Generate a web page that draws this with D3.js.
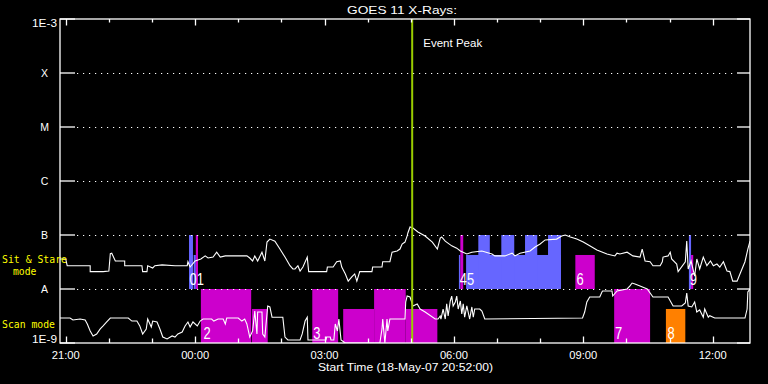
<!DOCTYPE html>
<html><head><meta charset="utf-8">
<script src="https://cdn.jsdelivr.net/npm/d3@7"></script>
<style>html,body{margin:0;padding:0;background:#000;} svg{display:block}</style>
</head><body>
<svg id="c" width="768" height="384"></svg>
<script>
// ---------- data ----------
const startTime = new Date(2007, 4, 18, 20, 52, 0);
const spanMinutes = 960;
const titleText = "GOES 11 X-Rays:";
const xTitle = "Start Time (18-May-07 20:52:00)";
const yTickValues = [1e-9, 1e-8, 1e-7, 1e-6, 1e-5, 1e-4, 1e-3];
const yTickLabels = ["1E-9", "A", "B", "C", "M", "X", "1E-3"];
const eventPeakMin = 490;

// [minutes after start, flux W/m^2]
const longChannel = [[0,3.6e-8],[8,3.6e-8],[10,2.7e-8],[42,2.7e-8],[42,2.1e-8],[60,2.1e-8],[68,2.15e-8],[70,4.5e-8],[72,4.6e-8],[77,3.3e-8],[90,3.3e-8],[90,2.7e-8],[114,2.7e-8],[115,2.1e-8],[121,2.1e-8],[122,2.7e-8],[129,2.45e-8],[132,2.7e-8],[142,2.8e-8],[160,2.7e-8],[177,2.7e-8],[178,3.2e-8],[181,2.55e-8],[188,3.3e-8],[196,3.6e-8],[202,4.1e-8],[206,3.75e-8],[213,3.9e-8],[218,4.8e-8],[223,3.9e-8],[230,4.1e-8],[260,4.1e-8],[264,3.75e-8],[268,3.3e-8],[271,4.1e-8],[275,3.3e-8],[281,4.8e-8],[285,3.3e-8],[288,7.4e-8],[292,8.4e-8],[299,7.7e-8],[306,5.5e-8],[313,3.9e-8],[320,2.7e-8],[324,2.35e-8],[327,2.35e-8],[331,2.7e-8],[334,2.15e-8],[338,2.55e-8],[344,3.9e-8],[346,2.1e-8],[371,2.1e-8],[372,2.55e-8],[380,2.55e-8],[385,3.2e-8],[390,3.3e-8],[392,2.55e-8],[397,1.9e-8],[401,1.4e-8],[406,1.67e-8],[410,1.9e-8],[413,1.4e-8],[417,2.1e-8],[434,2.1e-8],[435,2.55e-8],[448,2.55e-8],[449,3.2e-8],[459,3.2e-8],[462,4.8e-8],[469,5.05e-8],[473,5.5e-8],[476,6.8e-8],[480,7.4e-8],[483,9.6e-8],[484,1.09e-7],[487,1.41e-7],[491,1.35e-7],[498,1.14e-7],[508,9.6e-8],[518,7.4e-8],[525,5.5e-8],[529,8.8e-8],[531,9.2e-8],[536,7.7e-8],[545,6.3e-8],[552,5.7e-8],[557,5.05e-8],[566,4.45e-8],[573,4.8e-8],[587,5.05e-8],[601,4.45e-8],[605,4.1e-8],[619,4.1e-8],[629,4.6e-8],[633,4.1e-8],[640,4.6e-8],[654,5.05e-8],[661,6.0e-8],[668,6.8e-8],[675,8.1e-8],[691,8.4e-8],[698,9.6e-8],[703,1.0e-7],[710,9.2e-8],[719,8.4e-8],[728,7.4e-8],[737,6.3e-8],[747,5.3e-8],[761,4.45e-8],[772,4.1e-8],[775,4.6e-8],[779,4.45e-8],[789,4.8e-8],[797,4.1e-8],[807,3.9e-8],[810,5.5e-8],[814,3.3e-8],[821,3.2e-8],[825,2.7e-8],[835,2.7e-8],[838,3.2e-8],[839,3.9e-8],[846,4.1e-8],[849,4.8e-8],[851,3.6e-8],[858,2.9e-8],[860,2.1e-8],[870,3.2e-8],[872,7.7e-8],[874,2.35e-8],[878,3.3e-8],[883,1.74e-8],[886,3.6e-8],[890,2.35e-8],[895,3.9e-8],[900,2.7e-8],[905,3.3e-8],[909,2.7e-8],[914,2.9e-8],[918,2.55e-8],[923,3.2e-8],[928,2.15e-8],[932,2.1e-8],[936,1.4e-8],[942,1.4e-8],[946,1.9e-8],[953,3.2e-8],[957,5.5e-8],[960,7.7e-8]];

const shortChannel = [[0,2.9e-9],[14,2.9e-9],[18,2.67e-9],[28,2.78e-9],[35,2.67e-9],[38,2.25e-9],[42,1.67e-9],[46,1.35e-9],[51,1.47e-9],[56,1.82e-9],[60,2.07e-9],[65,2.45e-9],[70,2.9e-9],[95,2.9e-9],[100,2.55e-9],[107,2.55e-9],[111,2.07e-9],[115,1.47e-9],[120,1.82e-9],[122,2.78e-9],[127,1.98e-9],[129,2.55e-9],[135,2.45e-9],[139,1.82e-9],[143,1.29e-9],[149,1.19e-9],[156,1.35e-9],[160,1.29e-9],[164,1.47e-9],[170,1.6e-9],[174,2.07e-9],[178,2.45e-9],[181,1.98e-9],[185,2.45e-9],[191,2.07e-9],[195,2.55e-9],[199,2.78e-9],[211,2.78e-9],[214,2.55e-9],[220,2.78e-9],[227,2.78e-9],[230,2.25e-9],[232,2.9e-9],[248,2.9e-9],[253,2.55e-9],[257,2.78e-9],[260,2.25e-9],[264,1.29e-9],[268,1.67e-9],[271,3.9e-9],[274,1.47e-9],[275,3.75e-9],[281,3.75e-9],[282,1.47e-9],[285,1.29e-9],[289,4.85e-9],[292,4.65e-9],[295,3.0e-9],[310,3.0e-9],[313,1.29e-9],[317,1.14e-9],[334,1.14e-9],[337,1.47e-9],[341,2.55e-9],[344,3.0e-9],[345,1.14e-9],[370,1.14e-9],[371,1.29e-9],[376,1.29e-9],[377,1.14e-9],[381,1.14e-9],[383,2.25e-9],[386,1.67e-9],[388,2.78e-9],[391,1.14e-9],[397,1.0e-9],[445,1.0e-9],[448,1.82e-9],[449,2.78e-9],[452,1.0e-9],[455,2.78e-9],[456,1.67e-9],[459,2.78e-9],[480,2.78e-9],[481,5.75e-9],[483,7.4e-9],[487,7.1e-9],[491,4.85e-9],[497,5.3e-9],[501,4.26e-9],[508,3.75e-9],[522,2.78e-9],[526,2.78e-9],[529,3.16e-9],[530,2.78e-9],[533,4.26e-9],[536,2.78e-9],[538,5.3e-9],[540,3.16e-9],[543,6.0e-9],[545,7.4e-9],[547,4.85e-9],[550,5.75e-9],[552,7.4e-9],[554,4.26e-9],[557,6.0e-9],[559,3.44e-9],[561,5.3e-9],[563,3.0e-9],[566,4.85e-9],[570,2.78e-9],[573,4.65e-9],[575,3.0e-9],[577,4.26e-9],[584,4.26e-9],[587,3.9e-9],[591,2.78e-9],[727,2.9e-9],[730,3.75e-9],[733,5.75e-9],[737,7.1e-9],[751,7.1e-9],[754,8.8e-9],[755,9.2e-9],[768,9.2e-9],[769,7.4e-9],[775,9.2e-9],[789,1.0e-8],[793,1.14e-8],[796,1.29e-8],[800,1.24e-8],[807,1.14e-8],[817,1.0e-8],[825,7.1e-9],[846,7.1e-9],[853,4.85e-9],[865,4.85e-9],[870,5.5e-9],[872,8.4e-9],[874,4.85e-9],[879,4.65e-9],[883,5.75e-9],[886,3.75e-9],[890,4.1e-9],[895,3.0e-9],[897,4.26e-9],[902,3.0e-9],[904,3.2e-9],[911,2.9e-9],[953,2.9e-9],[956,4.26e-9],[957,8.8e-9],[960,1.0e-8]];

// observation blocks: start min, end min, row, tall?, type
const blockStart = [179.5,186,189,555,557,565,582,614,647,679,717,875,878, 196,267,351,394,437,481,771,843];
const blockEnd   = [185,189,192,557,561,697,598,632,664,697,744,878,881, 266,289,387,437,481,525,821,870];
const blockRow   = ["sit","sit","sit","sit","sit","sit","sit","sit","sit","sit","sit","sit","sit","scan","scan","scan","scan","scan","scan","scan","scan"];
const blockTall  = [1,0,1,0,1,0,1,1,1,1,0,1,0, 1,0,1,0,1,0,1,0];
const blockType  = ["t1","t1","t2","t1","t2","t1","t1","t1","t1","t1","t2","t1","t2","t2","t2","t2","t2","t2","t2","t2","t3"];

// event numbers (adjacent ones share one label)
const eventLabels = ["01","2","3","45","6","7","8","9"];
const eventLabelMin = [179.5,199,351.5,555.5,718,771.5,844.5,875.5];
const eventLabelRow = ["sit","scan","scan","sit","sit","scan","scan","sit"];

// ---------- chart ----------
const L = 60, R = 750, T = 19, B = 343;
const svg = d3.select("#c");
svg.append("rect").attr("width",768).attr("height",384).attr("fill","#000");
const tm = m => new Date(startTime.getTime() + m * 60000);
const x = d3.scaleTime().domain([startTime, tm(spanMinutes)]).range([L, R]);
const y = d3.scaleLog().domain([1e-9, 1e-3]).range([B, T]);
const rowBand = {sit: [1e-8, 1e-7], scan: [1e-9, 1e-8]};
const typeColor = {t1: "#6666ff", t2: "#cc00cc", t3: "#ff8000"};
const FONT = "'Liberation Sans', Arial, sans-serif";
const MONO = "'DejaVu Sans Mono', monospace";

svg.append("defs").append("clipPath").attr("id","clip")
  .append("rect").attr("x",L).attr("y",T).attr("width",R-L).attr("height",B-T);

// blocks
const gB = svg.append("g");
blockStart.forEach((s,i) => {
  const band = rowBand[blockRow[i]];
  const y0 = y(band[0]), y1 = y(band[1]);
  const top = blockTall[i] ? y1 : y1 + (y0 - y1) * 0.37;
  gB.append("rect").attr("x", x(tm(s))).attr("width", x(tm(blockEnd[i])) - x(tm(s)))
    .attr("y", top).attr("height", y0 - top).attr("fill", typeColor[blockType[i]]);
});

// dotted grid lines + y ticks
const gG = svg.append("g");
yTickValues.forEach((v,i) => {
  const yy = y(v);
  if (i > 0 && i < yTickValues.length - 1) {
    gG.append("line").attr("x1", L+17).attr("x2", R-13).attr("y1", yy+0.5).attr("y2", yy+0.5)
      .attr("stroke","#fff").attr("stroke-width",1.2).attr("stroke-dasharray","1.2 4.8");
  }
  gG.append("line").attr("x1", L).attr("x2", L+15).attr("y1", yy).attr("y2", yy).attr("stroke","#fff").attr("stroke-width",1.3);
  gG.append("line").attr("x1", R-13).attr("x2", R).attr("y1", yy).attr("y2", yy).attr("stroke","#fff").attr("stroke-width",1.3);
});

// curves
const line = d3.line().x(d => x(tm(d[0]))).y(d => y(d[1]));
const gC = svg.append("g").attr("clip-path","url(#clip)");
[longChannel, shortChannel].forEach(data => {
  gC.append("path").attr("d", line(data)).attr("fill","none").attr("stroke","#fff")
    .attr("stroke-width",1.1).attr("stroke-linejoin","miter");
});

// event labels
eventLabels.forEach((t,i) => {
  const band = rowBand[eventLabelRow[i]];
  svg.append("text").attr("x", x(tm(eventLabelMin[i])) + 0.5).attr("y", y(band[0]) - 4)
    .attr("font-family", FONT).attr("font-size", 17).attr("fill", "#fff")
    .attr("textLength", 7.2 * t.length).attr("lengthAdjust","spacingAndGlyphs").text(t);
});

// event peak line
svg.append("line").attr("x1", x(tm(eventPeakMin))).attr("x2", x(tm(eventPeakMin)))
  .attr("y1", T).attr("y2", B).attr("stroke", "#99cc00").attr("stroke-width", 2);
svg.append("text").attr("x", x(tm(eventPeakMin)) + 11).attr("y", 47)
  .attr("font-family", FONT).attr("font-size", 10.5).attr("fill","#fff")
  .attr("textLength", 59).attr("lengthAdjust","spacingAndGlyphs").text("Event Peak");

// frame
svg.append("rect").attr("x", L).attr("y", T).attr("width", R-L).attr("height", B-T)
  .attr("fill","none").attr("stroke","#fff").attr("stroke-width",1.3);

// time ticks
const hours = d3.timeHour.range(d3.timeHour.ceil(startTime), tm(spanMinutes));
const fmt = d3.timeFormat("%H:%M");
hours.forEach(h => {
  const xx = Math.round(x(h)) + 0.5;
  const major = h.getHours() % 3 === 0;
  svg.append("line").attr("x1", xx).attr("x2", xx).attr("y1", T).attr("y2", T + (major ? 6.5 : 3.5)).attr("stroke","#fff").attr("stroke-width",1.3);
  svg.append("line").attr("x1", xx).attr("x2", xx).attr("y1", B).attr("y2", B - (major ? 6.5 : 4.5)).attr("stroke","#fff").attr("stroke-width",1.3);
  if (major) {
    svg.append("text").attr("x", x(h)).attr("y", 359).attr("text-anchor","middle")
      .attr("font-family", FONT).attr("font-size", 10.5).attr("fill","#fff")
      .attr("textLength", 28).attr("lengthAdjust","spacingAndGlyphs").text(fmt(h));
  }
});

// y labels
yTickValues.forEach((v,i) => {
  let yy = y(v) + 3.8;
  if (i === yTickValues.length - 1) yy = T + 7.6;
  if (i === 0) yy = B;
  const lab = yTickLabels[i];
  const t = svg.append("text").attr("x", 44.5).attr("y", yy).attr("text-anchor","middle")
    .attr("font-family", FONT).attr("font-size", 10.5).attr("fill","#fff").text(lab);
  if (lab.length > 1) t.attr("textLength", 25).attr("lengthAdjust","spacingAndGlyphs");
});

// titles
svg.append("text").attr("x", 402).attr("y", 14).attr("text-anchor","middle")
  .attr("font-family", FONT).attr("font-size", 10.5).attr("fill","#fff")
  .attr("textLength", 110).attr("lengthAdjust","spacingAndGlyphs").text(titleText);
svg.append("text").attr("x", 405.5).attr("y", 371).attr("text-anchor","middle")
  .attr("font-family", FONT).attr("font-size", 10.5).attr("fill","#fff")
  .attr("textLength", 175).attr("lengthAdjust","spacingAndGlyphs").text(xTitle);

// row labels
const yl = "#ffff00";
svg.append("text").attr("x", 2).attr("y", 263).attr("font-family", MONO).attr("font-size", 10.5).attr("fill", yl)
  .attr("textLength", 65).attr("lengthAdjust","spacingAndGlyphs").text("Sit & Stare");
svg.append("text").attr("x", 13).attr("y", 275).attr("font-family", MONO).attr("font-size", 10.5).attr("fill", yl)
  .attr("textLength", 23.5).attr("lengthAdjust","spacingAndGlyphs").text("mode");
svg.append("text").attr("x", 2).attr("y", 328).attr("font-family", MONO).attr("font-size", 10.5).attr("fill", yl)
  .attr("textLength", 53).attr("lengthAdjust","spacingAndGlyphs").text("Scan mode");
</script>
</body></html>
